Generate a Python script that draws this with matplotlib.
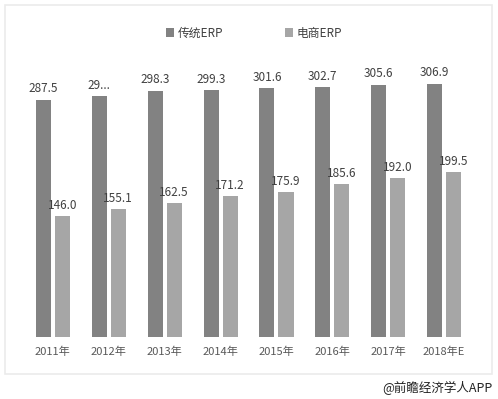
import matplotlib.pyplot as plt
import numpy as np
from matplotlib.patches import Rectangle

plt.rcParams['font.family'] = ['Noto Sans CJK SC', 'DejaVu Sans']

years = ['2011年', '2012年', '2013年', '2014年', '2015年', '2016年', '2017年', '2018年E']
traditional = [287.5, 292.0, 298.3, 299.3, 301.6, 302.7, 305.6, 306.9]
ecommerce = [146.0, 155.1, 162.5, 171.2, 175.9, 185.6, 192.0, 199.5]
trad_labels = ['287.5', '29...', '298.3', '299.3', '301.6', '302.7', '305.6', '306.9']
ecom_labels = ['146.0', '155.1', '162.5', '171.2', '175.9', '185.6', '192.0', '199.5']

fig = plt.figure(figsize=(4.98, 3.99), dpi=100)
# faint frame round the chart area
fig.patches.append(Rectangle((0.01, 0.063), 0.978, 0.925, transform=fig.transFigure,
                             facecolor='none', edgecolor='#ebebeb', lw=1.2, zorder=-1))
ax = fig.add_axes([0.05, 0.155, 0.898, 0.725])
ax.patch.set_alpha(0)

x = np.arange(len(years))
w = 0.27
off = 0.17
b1 = ax.bar(x - off, traditional, w, color='#828282', label='传统ERP')
b2 = ax.bar(x + off, ecommerce, w, color='#a6a6a6', label='电商ERP')

for bar, txt in zip(b1, trad_labels):
    ax.text(bar.get_x() + bar.get_width() / 2, bar.get_height() + 5, txt,
            ha='center', va='bottom', fontsize=8.5, color='#404040')
for bar, txt in zip(b2, ecom_labels):
    ax.text(bar.get_x() + bar.get_width() / 2, bar.get_height() + 5, txt,
            ha='center', va='bottom', fontsize=8.5, color='#404040')

ax.set_xlim(-0.5, len(years) - 0.5)
ax.set_ylim(0, 350)
ax.set_xticks(x)
ax.set_xticklabels(years, fontsize=8, color='#595959')
ax.tick_params(axis='x', length=0, pad=7)
ax.set_yticks([])
for s in ax.spines.values():
    s.set_visible(False)

fig.legend(handles=[b1, b2], loc='center', bbox_to_anchor=(0.51, 0.917), ncol=2,
           frameon=False, fontsize=8.5, handlelength=0.7, handleheight=0.7,
           handletextpad=0.3, columnspacing=5.2, labelcolor='#404040')

fig.text(0.988, 0.027, '@前瞻经济学人APP', ha='right', va='center', fontsize=9, color='#222222')

plt.savefig('out.png', dpi=100)
